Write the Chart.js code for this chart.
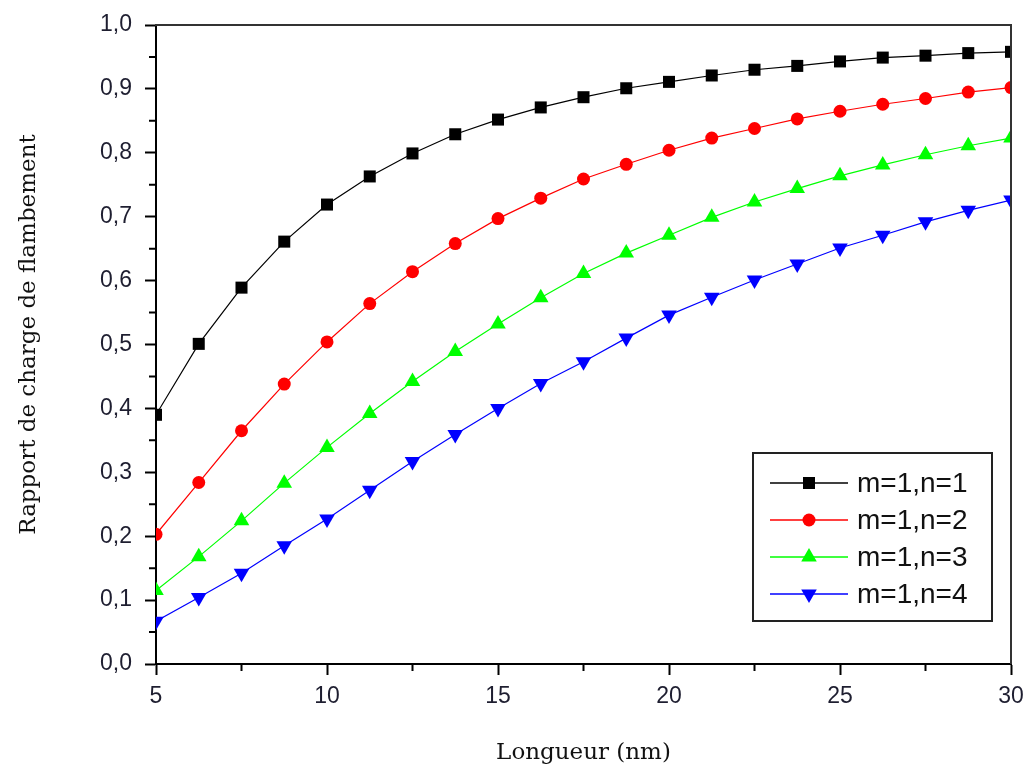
<!DOCTYPE html>
<html><head><meta charset="utf-8">
<script src="https://cdn.jsdelivr.net/npm/chart.js@4.4.0/dist/chart.umd.min.js"></script>
<style>html,body{margin:0;padding:0;background:#fff;overflow:hidden}</style>
</head><body>
<canvas id="c" width="1027" height="774"></canvas>
<script>
// ---- data ----
const lengths = [5,6.25,7.5,8.75,10,11.25,12.5,13.75,15,16.25,17.5,18.75,20,21.25,22.5,23.75,25,26.25,27.5,28.75,30];
const seriesLabels = ['m=1,n=1','m=1,n=2','m=1,n=3','m=1,n=4'];
const ratioN1 = [0.390,0.501,0.589,0.661,0.719,0.763,0.799,0.829,0.852,0.871,0.887,0.901,0.911,0.921,0.930,0.936,0.943,0.949,0.952,0.956,0.958];
const ratioN2 = [0.203,0.284,0.365,0.438,0.504,0.564,0.614,0.658,0.697,0.729,0.759,0.782,0.804,0.823,0.838,0.853,0.865,0.876,0.885,0.895,0.902];
const ratioN3 = [0.115,0.168,0.224,0.283,0.339,0.392,0.442,0.489,0.532,0.573,0.611,0.643,0.671,0.699,0.723,0.744,0.764,0.781,0.797,0.811,0.823];
const ratioN4 = [0.067,0.104,0.142,0.185,0.227,0.272,0.317,0.359,0.400,0.439,0.473,0.510,0.546,0.574,0.601,0.626,0.651,0.671,0.692,0.710,0.726];
const xMajorTicks = [5,10,15,20,25,30];
const yMajorTicks = [0,0.1,0.2,0.3,0.4,0.5,0.6,0.7,0.8,0.9,1.0];
const xTitle = 'Longueur (nm)';
const yTitle = 'Rapport de charge de flambement';

// ---- styles ----
const colors = ['#000000','#ff0000','#00ff00','#0000ff'];
const pStyles = ['rect','circle','triangle','triangle'];
const pRot = [0,0,0,180];
const pRad = [8.5,6.5,9,9];
const allSeries = [ratioN1, ratioN2, ratioN3, ratioN4];

const datasets = allSeries.map((s,i)=>({
  label: seriesLabels[i],
  data: lengths.map((x,j)=>({x:x,y:s[j]})),
  borderColor: colors[i], backgroundColor: colors[i],
  borderWidth: 1.2, pointStyle: pStyles[i], rotation: pRot[i],
  pointRadius: pRad[i], pointBorderWidth: 0, pointHoverRadius: pRad[i],
  showLine: true, tension: 0, fill: false
}));

const isMajorX = v => xMajorTicks.some(t=>Math.abs(t-v)<1e-6);
const isMajorY = v => yMajorTicks.some(t=>Math.abs(t-v)<1e-6);

const tickFont = {family:'"Liberation Sans", Arial, sans-serif', size:23};
const titleFont = {family:'"DejaVu Serif", serif', size:23};

const decor = {
  id:'decor',
  afterDraw(chart){
    const ctx = chart.ctx, ca = chart.chartArea;
    const xs = chart.scales.x, ys = chart.scales.y;
    ctx.save();
    // frame top & right
    ctx.strokeStyle = '#333'; ctx.lineWidth = 2;
    ctx.beginPath();
    ctx.moveTo(ca.left-1, ca.top); ctx.lineTo(ca.right, ca.top); ctx.lineTo(ca.right, ca.bottom);
    ctx.stroke();
    // minor ticks
    ctx.strokeStyle = '#000'; ctx.lineWidth = 2;
    ctx.beginPath();
    xs.ticks.forEach(t=>{ if(!isMajorX(t.value)){ const p = xs.getPixelForValue(t.value); ctx.moveTo(p, ca.bottom); ctx.lineTo(p, ca.bottom+7);} });
    ys.ticks.forEach(t=>{ if(!isMajorY(t.value)){ const p = ys.getPixelForValue(t.value); ctx.moveTo(ca.left, p); ctx.lineTo(ca.left-7, p);} });
    ctx.stroke();
    // y axis title
    ctx.save();
    ctx.translate(29, (ca.top+ca.bottom)/2 - 10);
    ctx.rotate(-Math.PI/2);
    ctx.fillStyle = '#111';
    ctx.font = '23px "DejaVu Serif", serif';
    ctx.textAlign = 'center'; ctx.textBaseline = 'middle';
    ctx.fillText(yTitle, 0, 0);
    ctx.restore();
    // legend box
    const bx = ca.right - 258, by = ca.bottom - 211, bw = 239, bh = 168;
    ctx.fillStyle = '#fff'; ctx.fillRect(bx, by, bw, bh);
    ctx.strokeStyle = '#222'; ctx.lineWidth = 2; ctx.strokeRect(bx, by, bw, bh);
    chart.data.datasets.forEach((ds,i)=>{
      const yy = by + 30 + i*37;
      ctx.strokeStyle = ds.borderColor; ctx.lineWidth = 1.5;
      ctx.beginPath(); ctx.moveTo(bx+17, yy); ctx.lineTo(bx+95, yy); ctx.stroke();
      ctx.fillStyle = ds.backgroundColor; ctx.strokeStyle = ds.borderColor;
      Chart.helpers.drawPoint(ctx, {pointStyle: ds.pointStyle, rotation: ds.rotation, radius: ds.pointRadius, borderWidth: 0}, bx+56, yy);
      ctx.fillStyle = '#111'; ctx.font = '28px "Liberation Sans", Arial, sans-serif';
      ctx.textBaseline = 'middle'; ctx.textAlign = 'left';
      ctx.fillText(ds.label, bx+104, yy+1);
    });
    ctx.restore();
  }
};

new Chart(document.getElementById('c'), {
  type: 'scatter',
  data: { datasets },
  options: {
    responsive:false, animation:false, devicePixelRatio:1,
    layout:{padding:{top:25,right:16,left:0,bottom:0}},
    plugins:{legend:{display:false}, tooltip:{enabled:false}},
    scales:{
      x:{
        type:'linear', min:5, max:30,
        afterFit(s){ s.height = 110; s.paddingLeft = 0; s.paddingRight = 0; },
        border:{display:true,color:'#000',width:2},
        grid:{drawOnChartArea:false, drawTicks:true, tickLength:11, tickWidth:2,
              tickColor: c => isMajorX(c.tick.value) ? '#000' : 'rgba(0,0,0,0)'},
        ticks:{stepSize:2.5, autoSkip:false, maxRotation:0, padding:8, color:'#1e1e30', font:tickFont,
               callback: v => isMajorX(v) ? String(Math.round(v)) : ''},
        title:{display:true, text:xTitle, color:'#111', font:titleFont, padding:{top:0,bottom:7}}
      },
      y:{
        type:'linear', min:0, max:1,
        afterFit(s){ s.width = 156; s.paddingTop = 0; s.paddingBottom = 0; },
        border:{display:true,color:'#000',width:2},
        grid:{drawOnChartArea:false, drawTicks:true, tickLength:11, tickWidth:2,
              tickColor: c => isMajorY(c.tick.value) ? '#000' : 'rgba(0,0,0,0)'},
        ticks:{stepSize:0.05, autoSkip:false, padding:13, color:'#1e1e30', font:tickFont,
               callback: v => isMajorY(v) ? v.toFixed(1).replace('.',',') : ''},
        title:{display:false}
      }
    }
  },
  plugins:[decor]
});
</script>
</body></html>
